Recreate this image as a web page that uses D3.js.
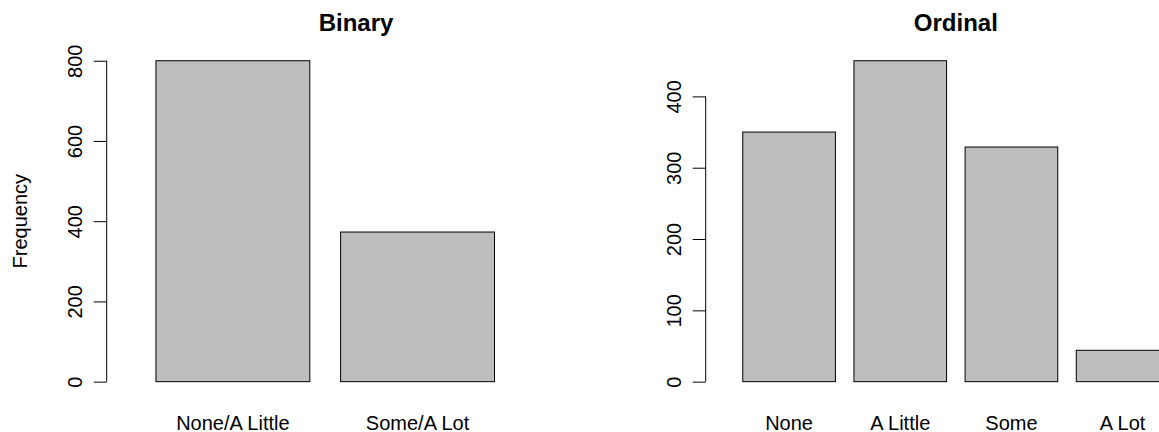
<!DOCTYPE html>
<html>
<head>
<meta charset="utf-8">
<script src="https://cdn.jsdelivr.net/npm/d3@7"></script>
<style>
  body { margin: 0; background: #fff; }
  svg text { font-family: "Liberation Sans", Arial, Helvetica, sans-serif; fill: #000; }
</style>
</head>
<body>
<svg id="chart" width="1159" height="432"></svg>
<script>
// Response counts, two codings of the same item
const binaryCategories = ["None/A Little", "Some/A Lot"];
const binaryCounts = [800, 373];
const binaryTicks = [0, 200, 400, 600, 800];

const ordinalCategories = ["None", "A Little", "Some", "A Lot"];
const ordinalCounts = [350, 450, 329, 44];
const ordinalTicks = [0, 100, 200, 300, 400];

const svg = d3.select("#chart");
const FONT = 20;

// plot regions (pixel frame of each barplot)
const panels = [
  { title: "Binary", cats: binaryCategories, vals: binaryCounts, ticks: binaryTicks,
    left: 106.7, right: 605.3, ylab: "Frequency" },
  { title: "Ordinal", cats: ordinalCategories, vals: ordinalCounts, ticks: ordinalTicks,
    left: 705.7, right: 1206, ylab: null }
];
const plotTop = 47.9, plotBottom = 394.5;
const barWidth = 1, barSpace = 0.2;

panels.forEach(p => {
  const n = p.cats.length;
  const xMax = n + 1;
  const x = d3.scaleLinear()
    .domain([-0.04 * xMax, 1.04 * xMax])
    .range([p.left, p.right]);
  const yMax = d3.max(p.vals);
  const y = d3.scaleLinear()
    .domain([-0.04 * yMax, 1.04 * yMax])
    .range([plotBottom, plotTop]);

  const g = svg.append("g");

  // bars
  g.selectAll("rect.bar")
    .data(p.vals)
    .join("rect")
    .attr("class", "bar")
    .attr("x", (d, i) => x(barSpace + i * (barWidth + barSpace)))
    .attr("width", (d, i) => x(barWidth) - x(0))
    .attr("y", d => y(d))
    .attr("height", d => y(0) - y(d))
    .attr("fill", "#bebebe")
    .attr("stroke", "#000")
    .attr("stroke-width", 1);

  // category labels under bars
  g.selectAll("text.cat")
    .data(p.cats)
    .join("text")
    .attr("class", "cat")
    .attr("x", (d, i) => x(barSpace + i * (barWidth + barSpace) + barWidth / 2))
    .attr("y", 429.5)
    .attr("text-anchor", "middle")
    .attr("font-size", FONT)
    .text(d => d);

  // value axis
  const axis = d3.axisLeft(y)
    .tickValues(p.ticks)
    .tickSize(13)
    .tickSizeOuter(0)
    .tickFormat(d3.format("d"));
  const ag = g.append("g")
    .attr("transform", `translate(${p.left},0)`)
    .call(axis);
  ag.select(".domain")
    .attr("d", `M0,${y(p.ticks[0])}V${y(p.ticks[p.ticks.length - 1])}`)
    .attr("stroke", "#000");
  ag.selectAll(".tick line").attr("stroke", "#000");
  ag.selectAll(".tick text")
    .attr("x", null)
    .attr("dy", null)
    .attr("font-size", FONT)
    .attr("font-family", null)
    .attr("text-anchor", "middle")
    .attr("transform", "translate(-25,0) rotate(-90)");
  ag.attr("font-family", null).attr("font-size", null);

  // panel title
  g.append("text")
    .attr("x", (p.left + p.right) / 2)
    .attr("y", 31)
    .attr("text-anchor", "middle")
    .attr("font-size", 24)
    .attr("font-weight", "bold")
    .text(p.title);

  if (p.ylab) {
    g.append("text")
      .attr("transform", `translate(27,${(plotTop + plotBottom) / 2}) rotate(-90)`)
      .attr("text-anchor", "middle")
      .attr("font-size", FONT)
      .text(p.ylab);
  }
});
</script>
</body>
</html>
